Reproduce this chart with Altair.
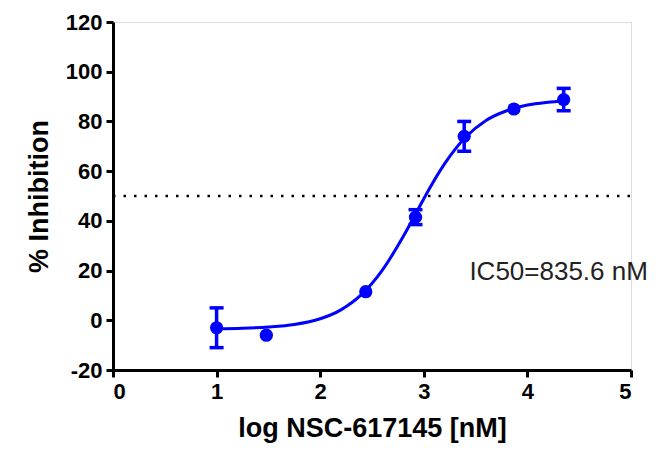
import altair as alt
import pandas as pd

# measured points
pt_x = [1.0, 1.48, 2.44, 2.92, 3.39, 3.87, 4.35]
pt_y = [-3.0, -6.0, 11.5, 41.5, 74.0, 85.0, 88.8]
pt_err = [8.0, 0.0, 0.0, 3.0, 6.0, 0.0, 4.5]

# fitted curve
curve_x = [1.0, 1.25, 1.5, 1.75, 2.0, 2.2, 2.4, 2.6, 2.8, 2.92, 3.0, 3.2, 3.4, 3.6, 3.8, 4.0, 4.2, 4.35]
curve_y = [-3.4, -3.2, -2.7, -1.7, 0.6, 4.2, 10.4, 20.2, 33.6, 42.7, 48.9, 62.9, 73.5, 80.4, 84.3, 86.6, 87.7, 88.2]

ref_level = [50]
x_ticks = [0, 1, 2, 3, 4, 5]
y_ticks = [-20, 0, 20, 40, 60, 80, 100, 120]
label_text = ["IC50=835.6 nM"]
label_x = [3.44]
label_y = [19.4]

FONT = "Liberation Sans"
BLUE = "#0000FF"

pts = pd.DataFrame({"x": pt_x, "y": pt_y, "err": pt_err})
pts["lo"] = pts["y"] - pts["err"]
pts["hi"] = pts["y"] + pts["err"]
errs = pts[pts["err"] > 0]
curve = pd.DataFrame({"x": curve_x, "y": curve_y})
ref = pd.DataFrame({"x": [0], "x2": [5], "y": ref_level})
lab = pd.DataFrame({"x": label_x, "y": label_y, "t": label_text})

xscale = alt.Scale(domain=[0, 5], nice=False)
yscale = alt.Scale(domain=[-20, 120], nice=False)

xaxis = alt.Axis(values=x_ticks, labelExpr="'' + datum.value", title="log NSC-617145 [nM]",
                 labelFont=FONT, labelFontWeight="bold", labelFontSize=22,
                 titleFont=FONT, titleFontWeight="bold", titleFontSize=27,
                 labelColor="black", titleColor="black",
                 tickSize=7, tickWidth=3, tickColor="black",
                 domainWidth=3, domainColor="black", grid=False,
                 labelPadding=4, titlePadding=13)
yaxis = alt.Axis(values=y_ticks, labelExpr="'' + datum.value", title="% Inhibition",
                 labelFont=FONT, labelFontWeight="bold", labelFontSize=22,
                 titleFont=FONT, titleFontWeight="bold", titleFontSize=27,
                 labelColor="black", titleColor="black",
                 tickSize=7, tickWidth=3, tickColor="black",
                 domainWidth=3, domainColor="black", grid=False,
                 labelPadding=4, titlePadding=12)

X = alt.X("x:Q", scale=xscale, axis=xaxis)
Y = alt.Y("y:Q", scale=yscale, axis=yaxis)

refline = alt.Chart(ref).mark_rule(color="black", strokeWidth=2.5, strokeDash=[2.5, 8]).encode(
    x=X, x2="x2:Q", y=Y)

line = alt.Chart(curve).mark_line(color=BLUE, strokeWidth=3, interpolate="monotone").encode(x=X, y=Y)

bars = alt.Chart(errs).mark_rule(color=BLUE, strokeWidth=3.5, opacity=1).encode(
    x=X, y=alt.Y("lo:Q", scale=yscale, axis=yaxis), y2="hi:Q")
caps_lo = alt.Chart(errs).mark_tick(color=BLUE, orient="horizontal", size=14, thickness=3.5,
                                    opacity=1).encode(
    x=X, y=alt.Y("lo:Q", scale=yscale, axis=yaxis))
caps_hi = alt.Chart(errs).mark_tick(color=BLUE, orient="horizontal", size=14, thickness=3.5,
                                    opacity=1).encode(
    x=X, y=alt.Y("hi:Q", scale=yscale, axis=yaxis))

dots = alt.Chart(pts).mark_circle(color=BLUE, size=175, opacity=1).encode(x=X, y=Y)

text = alt.Chart(lab).mark_text(align="left", baseline="middle", font=FONT, fontSize=26,
                                color="#222222").encode(x=X, y=Y, text="t:N")

chart = alt.layer(refline, line, bars, caps_lo, caps_hi, dots, text).properties(
    width=518, height=348,
    autosize=alt.AutoSizeParams(type="none"),
    padding={"left": 105, "top": 14, "right": 28, "bottom": 73},
).configure_view(stroke=None).configure(background="white")

chart.save("out.html", embed_options={"renderer": "svg", "actions": False})
